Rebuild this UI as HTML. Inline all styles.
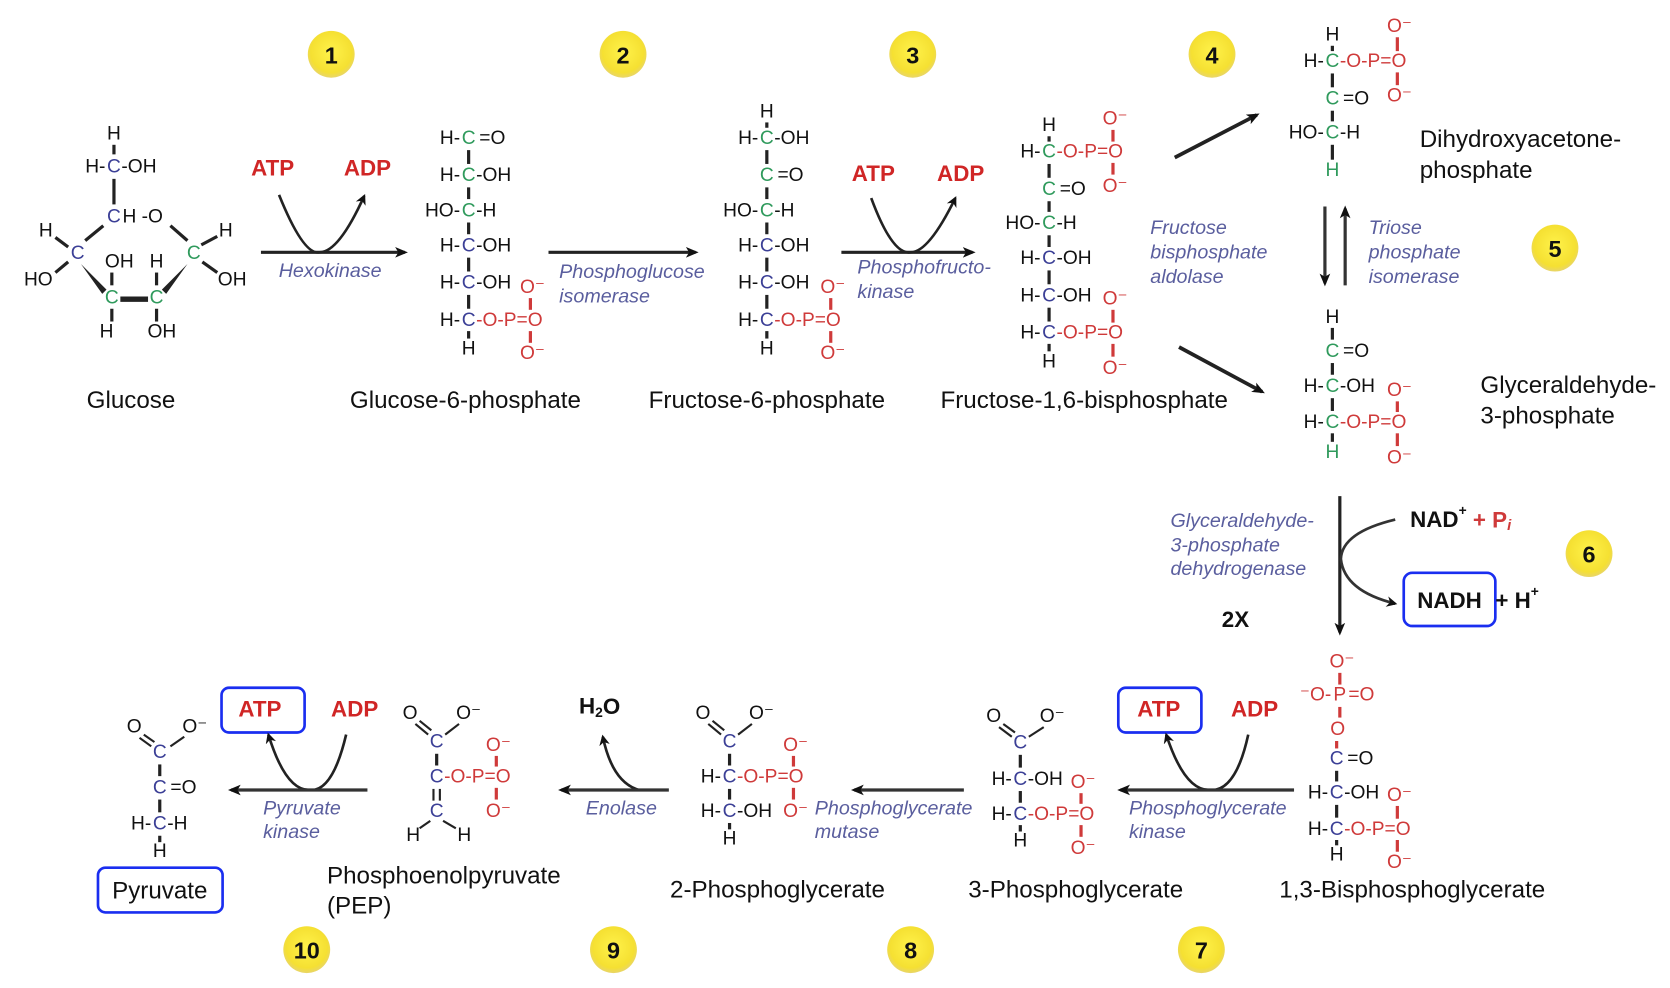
<!DOCTYPE html>
<html><head><meta charset="utf-8"><style>
html,body{margin:0;padding:0;background:#fff}
svg{display:block}
text{font-family:"Liberation Sans",sans-serif;font-size:18px;dominant-baseline:central;fill:#111}
.g{fill:#2f9a5c}.b{fill:#3b3f96}.r{fill:#cf3a3a}
.e{font-style:italic;fill:#5a5e9e;font-size:18.5px;dominant-baseline:auto}
.n{font-size:22.7px;dominant-baseline:auto}
.a{font-weight:bold;fill:#d02626;font-size:21px}
.k{font-weight:bold;font-size:21px}
.num{font-weight:bold;font-size:22px;text-anchor:middle}
.m{text-anchor:middle}.en{text-anchor:end}
line.bd{stroke:#222;stroke-width:3}
line.rb{stroke:#cf3a3a;stroke-width:3}
</style></head><body>
<svg width="1670" height="988" viewBox="0 0 1568 928" preserveAspectRatio="none" xmlns="http://www.w3.org/2000/svg">
<defs>
<marker id="ah" markerWidth="10" markerHeight="10" refX="8" refY="5" orient="auto" markerUnits="userSpaceOnUse"><path d="M0,0 L10,5 L0,10 L3,5z" fill="#111"/></marker>
<marker id="ahs" markerWidth="12" markerHeight="12" refX="9" refY="6" orient="auto" markerUnits="userSpaceOnUse"><path d="M0,1 L12,6 L0,11 L3,6z" fill="#111"/></marker>
<radialGradient id="yg" cx="50%" cy="45%" r="55%"><stop offset="0" stop-color="#fff24a"/><stop offset="0.8" stop-color="#f5e032"/><stop offset="1" stop-color="#e8d56a"/></radialGradient>
</defs>

<g>
<circle cx="311" cy="51" r="22" fill="url(#yg)"/><text x="311" y="52" class="num">1</text>
<circle cx="585" cy="51" r="22" fill="url(#yg)"/><text x="585" y="52" class="num">2</text>
<circle cx="857" cy="51" r="22" fill="url(#yg)"/><text x="857" y="52" class="num">3</text>
<circle cx="1138" cy="51" r="22" fill="url(#yg)"/><text x="1138" y="52" class="num">4</text>
<circle cx="1460" cy="233" r="22" fill="url(#yg)"/><text x="1460" y="234" class="num">5</text>
<circle cx="1492" cy="520" r="22" fill="url(#yg)"/><text x="1492" y="521" class="num">6</text>
<circle cx="1128" cy="892" r="22" fill="url(#yg)"/><text x="1128" y="893" class="num">7</text>
<circle cx="855" cy="892" r="22" fill="url(#yg)"/><text x="855" y="893" class="num">8</text>
<circle cx="576" cy="892" r="22" fill="url(#yg)"/><text x="576" y="893" class="num">9</text>
<circle cx="288" cy="892" r="22" fill="url(#yg)"/><text x="288" y="893" class="num">10</text>
</g>

<!-- Glucose ring -->
<text x="107" y="126" class="m">H</text>
<line class="bd" x1="107" y1="136" x2="107" y2="145"/>
<text x="99" y="157" class="en">H-</text><text x="107" y="157" class="m b">C</text><text x="114" y="157">-OH</text>
<line class="bd" x1="107" y1="168" x2="107" y2="192"/>
<text x="107" y="204" class="m b">C</text><text x="115" y="204">H -O</text>
<line class="bd" x1="97" y1="212" x2="80" y2="226"/>
<line class="bd" x1="160" y1="212" x2="176" y2="226"/>
<text x="43" y="217" class="m">H</text><line class="bd" x1="52" y1="223" x2="64" y2="232"/>
<text x="73" y="238" class="m b">C</text>
<text x="36" y="263" class="m">HO</text><line class="bd" x1="52" y1="256" x2="64" y2="246"/>
<path d="M76,248 L100,272 L96,276z" fill="#222"/>
<text x="112" y="246" class="m">OH</text><line class="bd" x1="105" y1="256" x2="105" y2="268"/>
<text x="147" y="246" class="m">H</text><line class="bd" x1="147" y1="256" x2="147" y2="268"/>
<text x="105" y="280" class="m g">C</text><text x="147" y="280" class="m g">C</text>
<line x1="113" y1="281" x2="139" y2="281" stroke="#222" stroke-width="5"/>
<path d="M152,272 L176,248 L156,276z" fill="#222"/>
<text x="182" y="238" class="m g">C</text>
<text x="212" y="217" class="m">H</text><line class="bd" x1="189" y1="230" x2="204" y2="222"/>
<text x="218" y="263" class="m">OH</text><line class="bd" x1="190" y1="246" x2="204" y2="256"/>
<line class="bd" x1="105" y1="290" x2="105" y2="302"/><text x="100" y="312" class="m">H</text>
<line class="bd" x1="147" y1="290" x2="147" y2="302"/><text x="152" y="312" class="m">OH</text>
<text x="123" y="383" class="n m">Glucose</text>

<!-- Step 1 -->
<text x="256" y="158" class="a m">ATP</text><text x="345" y="158" class="a m">ADP</text>
<path d="M262,183 Q285,240 300,237 Q318,237 342,184" fill="none" stroke="#222" stroke-width="2.5" marker-end="url(#ah)"/>
<line x1="245" y1="237" x2="380" y2="237" stroke="#222" stroke-width="3" marker-end="url(#ahs)"/>
<text x="310" y="260" class="e m">Hexokinase</text>

<!-- G6P -->
<g>
<text x="432" y="130" class="en">H-</text><text x="440" y="130" class="m g">C</text><text x="450" y="130">=O</text>
<text x="432" y="165" class="en">H-</text><text x="440" y="165" class="m g">C</text><text x="447" y="165">-OH</text>
<text x="432" y="198" class="en">HO-</text><text x="440" y="198" class="m g">C</text><text x="447" y="198">-H</text>
<text x="432" y="231" class="en">H-</text><text x="440" y="231" class="m b">C</text><text x="447" y="231">-OH</text>
<text x="432" y="266" class="en">H-</text><text x="440" y="266" class="m b">C</text><text x="447" y="266">-OH</text>
<text x="432" y="301" class="en">H-</text><text x="440" y="301" class="m b">C</text><text x="447" y="301" class="r">-O-P=O</text>
<text x="440" y="328" class="m">H</text>
<line class="bd" x1="440" y1="141" x2="440" y2="154"/><line class="bd" x1="440" y1="176" x2="440" y2="187"/><line class="bd" x1="440" y1="209" x2="440" y2="220"/><line class="bd" x1="440" y1="242" x2="440" y2="255"/><line class="bd" x1="440" y1="277" x2="440" y2="290"/><line class="bd" x1="440" y1="311" x2="440" y2="318"/>
<text x="500" y="270" class="m r">O⁻</text><line class="rb" x1="498" y1="280" x2="498" y2="291"/><line class="rb" x1="498" y1="311" x2="498" y2="322"/><text x="500" y="332" class="m r">O⁻</text>
</g>
<text x="437" y="383" class="n m">Glucose-6-phosphate</text>

<!-- Step 2 -->
<line x1="515" y1="237" x2="653" y2="237" stroke="#222" stroke-width="3" marker-end="url(#ahs)"/>
<text x="525" y="261" class="e">Phosphoglucose</text><text x="525" y="284" class="e">isomerase</text>

<!-- F6P -->
<g>
<text x="720" y="105" class="m">H</text>
<text x="712" y="130" class="en">H-</text><text x="720" y="130" class="m g">C</text><text x="727" y="130">-OH</text>
<text x="720" y="165" class="m g">C</text><text x="730" y="165">=O</text>
<text x="712" y="198" class="en">HO-</text><text x="720" y="198" class="m g">C</text><text x="727" y="198">-H</text>
<text x="712" y="231" class="en">H-</text><text x="720" y="231" class="m b">C</text><text x="727" y="231">-OH</text>
<text x="712" y="266" class="en">H-</text><text x="720" y="266" class="m b">C</text><text x="727" y="266">-OH</text>
<text x="712" y="301" class="en">H-</text><text x="720" y="301" class="m b">C</text><text x="727" y="301" class="r">-O-P=O</text>
<text x="720" y="328" class="m">H</text>
<line class="bd" x1="720" y1="115" x2="720" y2="120"/><line class="bd" x1="720" y1="141" x2="720" y2="154"/><line class="bd" x1="720" y1="176" x2="720" y2="187"/><line class="bd" x1="720" y1="209" x2="720" y2="220"/><line class="bd" x1="720" y1="242" x2="720" y2="255"/><line class="bd" x1="720" y1="277" x2="720" y2="290"/><line class="bd" x1="720" y1="311" x2="720" y2="318"/>
<text x="782" y="270" class="m r">O⁻</text><line class="rb" x1="780" y1="280" x2="780" y2="291"/><line class="rb" x1="780" y1="311" x2="780" y2="322"/><text x="782" y="332" class="m r">O⁻</text>
</g>
<text x="720" y="383" class="n m">Fructose-6-phosphate</text>

<!-- Step 3 -->
<text x="820" y="163" class="a m">ATP</text><text x="902" y="163" class="a m">ADP</text>
<path d="M818,186 Q838,240 855,237 Q872,237 897,186" fill="none" stroke="#222" stroke-width="2.5" marker-end="url(#ah)"/>
<line x1="790" y1="237" x2="913" y2="237" stroke="#222" stroke-width="3" marker-end="url(#ahs)"/>
<text x="805" y="257" class="e">Phosphofructo-</text><text x="805" y="280" class="e">kinase</text>

<!-- F16BP -->
<g>
<text x="985" y="118" class="m">H</text>
<text x="977" y="143" class="en">H-</text><text x="985" y="143" class="m g">C</text><text x="992" y="143" class="r">-O-P=O</text>
<text x="1047" y="112" class="m r">O⁻</text><line class="rb" x1="1045" y1="122" x2="1045" y2="133"/><line class="rb" x1="1045" y1="153" x2="1045" y2="164"/><text x="1047" y="175" class="m r">O⁻</text>
<text x="985" y="178" class="m g">C</text><text x="995" y="178">=O</text>
<text x="977" y="210" class="en">HO-</text><text x="985" y="210" class="m g">C</text><text x="992" y="210">-H</text>
<text x="977" y="243" class="en">H-</text><text x="985" y="243" class="m b">C</text><text x="992" y="243">-OH</text>
<text x="977" y="278" class="en">H-</text><text x="985" y="278" class="m b">C</text><text x="992" y="278">-OH</text>
<text x="977" y="313" class="en">H-</text><text x="985" y="313" class="m b">C</text><text x="992" y="313" class="r">-O-P=O</text>
<text x="1047" y="281" class="m r">O⁻</text><line class="rb" x1="1045" y1="291" x2="1045" y2="303"/><line class="rb" x1="1045" y1="323" x2="1045" y2="335"/><text x="1047" y="346" class="m r">O⁻</text>
<text x="985" y="340" class="m">H</text>
<line class="bd" x1="985" y1="128" x2="985" y2="133"/><line class="bd" x1="985" y1="154" x2="985" y2="167"/><line class="bd" x1="985" y1="189" x2="985" y2="199"/><line class="bd" x1="985" y1="221" x2="985" y2="232"/><line class="bd" x1="985" y1="254" x2="985" y2="267"/><line class="bd" x1="985" y1="289" x2="985" y2="302"/><line class="bd" x1="985" y1="323" x2="985" y2="330"/>
</g>
<text x="1018" y="383" class="n m">Fructose-1,6-bisphosphate</text>

<!-- Step 4 -->
<line x1="1103" y1="148" x2="1180" y2="108" stroke="#222" stroke-width="3.5" marker-end="url(#ahs)"/>
<line x1="1107" y1="326" x2="1185" y2="368" stroke="#222" stroke-width="3.5" marker-end="url(#ahs)"/>
<text x="1080" y="220" class="e">Fructose</text><text x="1080" y="243" class="e">bisphosphate</text><text x="1080" y="266" class="e">aldolase</text>

<!-- DHAP -->
<g>
<text x="1251" y="33" class="m">H</text>
<text x="1243" y="58" class="en">H-</text><text x="1251" y="58" class="m g">C</text><text x="1258" y="58" class="r">-O-P=O</text>
<text x="1314" y="25" class="m r">O⁻</text><line class="rb" x1="1312" y1="35" x2="1312" y2="48"/><line class="rb" x1="1312" y1="68" x2="1312" y2="80"/><text x="1314" y="90" class="m r">O⁻</text>
<text x="1251" y="93" class="m g">C</text><text x="1261" y="93">=O</text>
<text x="1243" y="125" class="en">HO-</text><text x="1251" y="125" class="m g">C</text><text x="1258" y="125">-H</text>
<text x="1251" y="160" class="m g">H</text>
<line class="bd" x1="1251" y1="43" x2="1251" y2="48"/><line class="bd" x1="1251" y1="69" x2="1251" y2="82"/><line class="bd" x1="1251" y1="104" x2="1251" y2="114"/><line class="bd" x1="1251" y1="136" x2="1251" y2="150"/>
</g>
<text x="1333" y="138" class="n">Dihydroxyacetone-</text><text x="1333" y="167" class="n">phosphate</text>

<!-- Step 5 -->
<line x1="1244" y1="194" x2="1244" y2="266" stroke="#333" stroke-width="3" marker-end="url(#ahs)"/>
<line x1="1263" y1="268" x2="1263" y2="196" stroke="#333" stroke-width="3" marker-end="url(#ahs)"/>
<text x="1285" y="220" class="e">Triose</text><text x="1285" y="243" class="e">phosphate</text><text x="1285" y="266" class="e">isomerase</text>

<!-- GAP -->
<g>
<text x="1251" y="298" class="m">H</text>
<text x="1251" y="330" class="m g">C</text><text x="1261" y="330">=O</text>
<text x="1243" y="363" class="en">H-</text><text x="1251" y="363" class="m g">C</text><text x="1258" y="363">-OH</text>
<text x="1243" y="397" class="en">H-</text><text x="1251" y="397" class="m g">C</text><text x="1258" y="397" class="r">-O-P=O</text>
<text x="1314" y="367" class="m r">O⁻</text><line class="rb" x1="1312" y1="377" x2="1312" y2="387"/><line class="rb" x1="1312" y1="407" x2="1312" y2="419"/><text x="1314" y="430" class="m r">O⁻</text>
<text x="1251" y="425" class="m g">H</text>
<line class="bd" x1="1251" y1="308" x2="1251" y2="319"/><line class="bd" x1="1251" y1="341" x2="1251" y2="352"/><line class="bd" x1="1251" y1="374" x2="1251" y2="386"/><line class="bd" x1="1251" y1="407" x2="1251" y2="415"/>
</g>
<text x="1390" y="369" class="n">Glyceraldehyde-</text><text x="1390" y="398" class="n">3-phosphate</text>

<!-- Step 6 -->
<line x1="1258" y1="466" x2="1258" y2="594" stroke="#222" stroke-width="3" marker-end="url(#ahs)"/>
<path d="M1310,488 Q1260,500 1259,525 Q1262,555 1310,567" fill="none" stroke="#333" stroke-width="2.5" marker-end="url(#ah)"/>
<text x="1099" y="495" class="e">Glyceraldehyde-</text><text x="1099" y="518" class="e">3-phosphate</text><text x="1099" y="540" class="e">dehydrogenase</text>
<text x="1324" y="488" class="k">NAD<tspan font-size="13" dy="-9">+</tspan><tspan class="r" dy="9"> + P</tspan><tspan class="r" font-size="14" font-style="italic" dy="6">i</tspan></text>
<rect x="1318" y="538" width="86" height="50" rx="8" fill="none" stroke="#1a2ef0" stroke-width="2.5"/>
<text x="1361" y="564" class="k m">NADH</text><text x="1404" y="564" class="k">+ H<tspan font-size="13" dy="-9">+</tspan></text>
<text x="1160" y="582" class="k m" font-size="22">2X</text>

<!-- 1,3-BPG -->
<g>
<text x="1260" y="622" class="m r">O⁻</text>
<line class="rb" x1="1258" y1="632" x2="1258" y2="643"/>
<text x="1250" y="653" class="en r">⁻O-</text><text x="1258" y="653" class="m r">P</text><text x="1266" y="653" class="r">=O</text>
<line class="rb" x1="1258" y1="664" x2="1258" y2="674"/>
<text x="1256" y="685" class="m r">O</text>
<line class="rb" x1="1255" y1="696" x2="1255" y2="703"/>
<text x="1255" y="713" class="m b">C</text><text x="1265" y="713">=O</text>
<text x="1247" y="745" class="en">H-</text><text x="1255" y="745" class="m b">C</text><text x="1262" y="745">-OH</text>
<text x="1247" y="779" class="en">H-</text><text x="1255" y="779" class="m b">C</text><text x="1262" y="779" class="r">-O-P=O</text>
<text x="1314" y="747" class="m r">O⁻</text><line class="rb" x1="1312" y1="757" x2="1312" y2="769"/><line class="rb" x1="1312" y1="789" x2="1312" y2="800"/><text x="1314" y="810" class="m r">O⁻</text>
<text x="1255" y="803" class="m">H</text>
<line class="bd" x1="1255" y1="724" x2="1255" y2="734"/><line class="bd" x1="1255" y1="756" x2="1255" y2="768"/><line class="bd" x1="1255" y1="789" x2="1255" y2="794"/>
</g>
<text x="1326" y="843" class="n m">1,3-Bisphosphoglycerate</text>

<!-- Step 7 -->
<rect x="1050" y="646" width="78" height="42" rx="7" fill="none" stroke="#1a2ef0" stroke-width="2.5"/>
<text x="1088" y="666" class="a m">ATP</text><text x="1178" y="666" class="a m">ADP</text>
<path d="M1172,690 Q1160,745 1135,742 Q1112,742 1095,690" fill="none" stroke="#222" stroke-width="2.5" marker-end="url(#ah)"/>
<line x1="1215" y1="742" x2="1052" y2="742" stroke="#333" stroke-width="3" marker-end="url(#ahs)"/>
<text x="1060" y="765" class="e">Phosphoglycerate</text><text x="1060" y="787" class="e">kinase</text>

<!-- 3PG -->
<g>
<text x="933" y="673" class="m">O</text><text x="988" y="673" class="m">O⁻</text>
<line x1="938" y1="683" x2="950" y2="692" stroke="#222" stroke-width="2"/><line x1="942" y1="680" x2="953" y2="688" stroke="#222" stroke-width="2"/>
<line x1="980" y1="683" x2="966" y2="692" stroke="#222" stroke-width="2"/>
<text x="958" y="698" class="m b">C</text>
<text x="950" y="732" class="en">H-</text><text x="958" y="732" class="m b">C</text><text x="965" y="732">-OH</text>
<text x="950" y="765" class="en">H-</text><text x="958" y="765" class="m b">C</text><text x="965" y="765" class="r">-O-P=O</text>
<text x="1017" y="735" class="m r">O⁻</text><line class="rb" x1="1015" y1="745" x2="1015" y2="755"/><line class="rb" x1="1015" y1="775" x2="1015" y2="786"/><text x="1017" y="797" class="m r">O⁻</text>
<text x="958" y="790" class="m">H</text>
<line class="bd" x1="958" y1="709" x2="958" y2="721"/><line class="bd" x1="958" y1="743" x2="958" y2="754"/><line class="bd" x1="958" y1="775" x2="958" y2="781"/>
</g>
<text x="1010" y="843" class="n m">3-Phosphoglycerate</text>

<!-- Step 8 -->
<line x1="905" y1="742" x2="802" y2="742" stroke="#333" stroke-width="3" marker-end="url(#ahs)"/>
<text x="765" y="765" class="e">Phosphoglycerate</text><text x="765" y="787" class="e">mutase</text>

<!-- 2PG -->
<g>
<text x="660" y="670" class="m">O</text><text x="715" y="670" class="m">O⁻</text>
<line x1="665" y1="680" x2="677" y2="690" stroke="#222" stroke-width="2"/><line x1="669" y1="677" x2="680" y2="686" stroke="#222" stroke-width="2"/>
<line x1="706" y1="680" x2="693" y2="690" stroke="#222" stroke-width="2"/>
<text x="685" y="697" class="m b">C</text>
<text x="677" y="730" class="en">H-</text><text x="685" y="730" class="m b">C</text><text x="692" y="730" class="r">-O-P=O</text>
<text x="747" y="700" class="m r">O⁻</text><line class="rb" x1="745" y1="710" x2="745" y2="720"/><line class="rb" x1="745" y1="740" x2="745" y2="751"/><text x="747" y="762" class="m r">O⁻</text>
<text x="677" y="762" class="en">H-</text><text x="685" y="762" class="m b">C</text><text x="692" y="762">-OH</text>
<text x="685" y="788" class="m">H</text>
<line class="bd" x1="685" y1="708" x2="685" y2="719"/><line class="bd" x1="685" y1="741" x2="685" y2="751"/><line class="bd" x1="685" y1="773" x2="685" y2="779"/>
</g>
<text x="730" y="843" class="n m">2-Phosphoglycerate</text>

<!-- Step 9 -->
<text x="563" y="663" class="k m">H<tspan font-size="13" dy="6">2</tspan><tspan dy="-6">O</tspan></text>
<path d="M600,742 Q575,735 566,692" fill="none" stroke="#222" stroke-width="2.5" marker-end="url(#ah)"/>
<line x1="628" y1="742" x2="527" y2="742" stroke="#333" stroke-width="3" marker-end="url(#ahs)"/>
<text x="550" y="765" class="e">Enolase</text>

<!-- PEP -->
<g>
<text x="385" y="670" class="m">O</text><text x="440" y="670" class="m">O⁻</text>
<line x1="390" y1="680" x2="402" y2="690" stroke="#222" stroke-width="2"/><line x1="394" y1="677" x2="405" y2="686" stroke="#222" stroke-width="2"/>
<line x1="431" y1="680" x2="418" y2="690" stroke="#222" stroke-width="2"/>
<text x="410" y="697" class="m b">C</text>
<line class="bd" x1="410" y1="708" x2="410" y2="719"/>
<text x="410" y="730" class="m b">C</text><text x="417" y="730" class="r">-O-P=O</text>
<text x="468" y="700" class="m r">O⁻</text><line class="rb" x1="466" y1="710" x2="466" y2="720"/><line class="rb" x1="466" y1="740" x2="466" y2="751"/><text x="468" y="762" class="m r">O⁻</text>
<line x1="407" y1="741" x2="407" y2="752" stroke="#222" stroke-width="2"/><line x1="413" y1="741" x2="413" y2="752" stroke="#222" stroke-width="2"/>
<text x="410" y="762" class="m b">C</text>
<line x1="404" y1="771" x2="394" y2="778" stroke="#222" stroke-width="2"/><line x1="416" y1="771" x2="428" y2="778" stroke="#222" stroke-width="2"/>
<text x="388" y="785" class="m">H</text><text x="436" y="785" class="m">H</text>
</g>
<text x="307" y="830" class="n">Phosphoenolpyruvate</text><text x="307" y="858" class="n">(PEP)</text>

<!-- Step 10 -->
<rect x="208" y="646" width="78" height="42" rx="7" fill="none" stroke="#1a2ef0" stroke-width="2.5"/>
<text x="244" y="666" class="a m">ATP</text><text x="333" y="666" class="a m">ADP</text>
<path d="M325,690 Q312,745 290,742 Q268,742 252,690" fill="none" stroke="#222" stroke-width="2.5" marker-end="url(#ah)"/>
<line x1="345" y1="742" x2="217" y2="742" stroke="#333" stroke-width="3" marker-end="url(#ahs)"/>
<text x="247" y="765" class="e">Pyruvate</text><text x="247" y="787" class="e">kinase</text>

<!-- Pyruvate -->
<g>
<text x="126" y="683" class="m">O</text><text x="183" y="683" class="m">O⁻</text>
<line x1="131" y1="693" x2="142" y2="701" stroke="#222" stroke-width="2"/><line x1="135" y1="690" x2="145" y2="697" stroke="#222" stroke-width="2"/>
<line x1="173" y1="692" x2="160" y2="701" stroke="#222" stroke-width="2"/>
<text x="150" y="707" class="m b">C</text>
<line class="bd" x1="150" y1="718" x2="150" y2="729"/>
<text x="150" y="740" class="m b">C</text><text x="160" y="740">=O</text>
<line class="bd" x1="150" y1="751" x2="150" y2="763"/>
<text x="142" y="774" class="en">H-</text><text x="150" y="774" class="m b">C</text><text x="157" y="774">-H</text>
<line class="bd" x1="150" y1="785" x2="150" y2="791"/>
<text x="150" y="800" class="m">H</text>
</g>
<rect x="92" y="815" width="117" height="42" rx="7" fill="none" stroke="#1a2ef0" stroke-width="2.5"/>
<text x="150" y="844" class="n m">Pyruvate</text>
</svg>
</body></html>
